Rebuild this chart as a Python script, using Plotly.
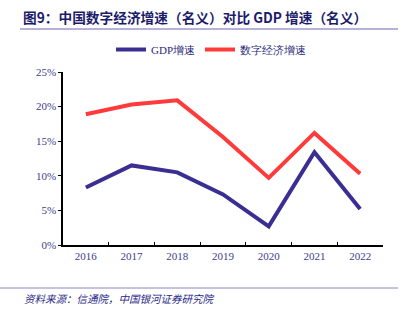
import plotly.graph_objects as go

years = ["2016", "2017", "2018", "2019", "2020", "2021", "2022"]
gdp_growth = [8.3, 11.5, 10.5, 7.3, 2.7, 13.4, 5.2]
digital_growth = [18.9, 20.3, 20.9, 15.6, 9.7, 16.2, 10.3]
y_ticks = [0, 5, 10, 15, 20, 25]
y_tick_labels = [f"{v}%" for v in y_ticks]

W, H = 411, 322
L, R, T, B = 63, 28, 72, 77
PW, PH = W - L - R, H - T - B

fig = go.Figure()
fig.add_trace(go.Scatter(x=years, y=gdp_growth, mode="lines", name="GDP增速",
                         line=dict(color="#3b2e93", width=4)))
fig.add_trace(go.Scatter(x=years, y=digital_growth, mode="lines", name="数字经济增速",
                         line=dict(color="#ff3a3a", width=4)))

tick_font = dict(family="Liberation Serif", size=11, color="#3d3d8c")

fig.update_layout(
    width=W, height=H,
    margin=dict(l=L, r=R, t=T, b=B),
    paper_bgcolor="white", plot_bgcolor="white",
    showlegend=True,
    legend=dict(orientation="h", x=0.15, xanchor="left", y=1.13, yanchor="middle",
                font=dict(family="Liberation Serif", size=11, color="#2a2a7a"),
                itemwidth=30, tracegroupgap=0, bgcolor="rgba(0,0,0,0)"),
    xaxis=dict(type="category", range=[-0.5, 6.5], showline=True, linecolor="black", linewidth=1.5,
               ticks="inside", ticklen=3, tickcolor="black", tickson="boundaries",
               showgrid=False, tickfont=tick_font, zeroline=False),
    yaxis=dict(range=[0, 25], tickmode="array", tickvals=y_ticks, ticktext=y_tick_labels,
               showline=True, linecolor="black", linewidth=1.5, ticks="outside", ticklen=3,
               tickcolor="black", showgrid=False, zeroline=False, tickfont=tick_font),
)

fig.add_annotation(text="<b>图9：中国数字经济增速（名义）对比 GDP 增速（名义）</b>",
                   xref="paper", yref="paper", x=(21 - L) / PW,
                   y=1 + (T - 17) / PH,
                   xanchor="left", yanchor="middle", showarrow=False,
                   font=dict(family="Noto Sans CJK SC", size=13.7, color="#1c1c6b"))
fig.add_shape(type="line", xref="paper", yref="paper",
              x0=(20 - L) / PW, x1=(398 - L) / PW,
              y0=1 + (T - 29) / PH, y1=1 + (T - 29) / PH,
              line=dict(color="#9e97c9", width=1.5))
fig.add_shape(type="line", xref="paper", yref="paper",
              x0=(0 - L) / PW, x1=(398 - L) / PW,
              y0=-(288 - (H - B)) / PH, y1=-(288 - (H - B)) / PH,
              line=dict(color="#8a84c4", width=1))
fig.add_annotation(text="<i>资料来源：信通院，中国银河证券研究院</i>",
                   xref="paper", yref="paper", x=(22 - L) / PW,
                   y=-(298 - (H - B)) / PH,
                   xanchor="left", yanchor="middle", showarrow=False,
                   font=dict(family="Noto Sans CJK SC", size=10.5, color="#2a2a8a"))

fig.write_html("out.html")
